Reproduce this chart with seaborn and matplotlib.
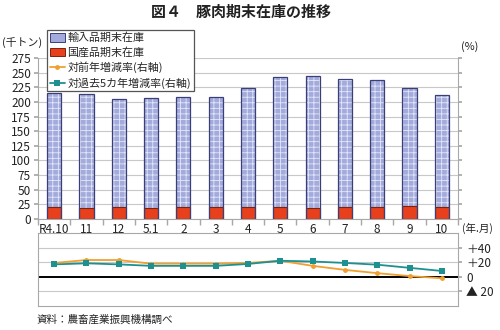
import numpy as np
import pandas as pd
import matplotlib
matplotlib.use("Agg")
import matplotlib.pyplot as plt
import seaborn as sns
from matplotlib.patches import Patch, Rectangle
from matplotlib.lines import Line2D

# Month-end pork inventories (thousand tonnes) and change rates (%)
months = ["R4.10", "11", "12", "5.1", "2", "3", "4", "5", "6", "7", "8", "9", "10"]
imported = [196, 196, 185, 188, 188, 188, 202, 222, 225, 218, 216, 201, 192]
domestic = [20, 18, 20, 18, 20, 20, 21, 21, 19, 21, 21, 22, 20]
yoy_rate = [19, 23, 23, 18, 18, 18, 19, 22, 15, 9.5, 5, 1, -2]
five_year_rate = [17, 18.5, 17, 15, 15, 15, 17.6, 22, 21, 19, 16.6, 12.3, 8]

left_ticks = list(range(0, 276, 25))
right_ticks = [40, 20, 0, -20]
right_labels = ["＋40", "＋20", "0", "▲ 20"]

BLUE = "#a3abdc"
HATCH = "#e4e7f7"
NAVY = "#3a3f78"
RED = "#e8401c"
DARKRED = "#7a2410"
ORANGE = "#f0a030"
TEAL = "#1f9090"
GRID = "#c8c8c8"
SPINE = "#a8a8a8"
TEXT = "#222222"

sns.set_theme(style="white")
plt.rcParams["font.family"] = ["Noto Sans CJK JP", "DejaVu Sans"]
plt.rcParams["hatch.linewidth"] = 0.6

fig = plt.figure(figsize=(5, 3.3), dpi=100)
fig.patch.set_facecolor("white")

# ---- stacked inventory bars ----
ax = fig.add_axes([0.076, 0.3364, 0.84, 0.4879])
df = pd.DataFrame({
    "month": months,
    "total": np.add(imported, domestic),
    "domestic": domestic,
})
# hatch takes its colour from the edge colour, so the grid texture is drawn
# first and a dark outline is laid on top of each bar afterwards
sns.barplot(data=df, x="month", y="total", color=BLUE, saturation=1,
            width=0.44, edgecolor=HATCH, linewidth=0, hatch="+++", ax=ax)
for p in list(ax.patches):
    ax.add_patch(Rectangle(p.get_xy(), p.get_width(), p.get_height(),
                           facecolor="none", edgecolor=NAVY, linewidth=0.9,
                           zorder=p.get_zorder() + 0.1))
sns.barplot(data=df, x="month", y="domestic", color=RED, saturation=1,
            width=0.44, edgecolor=DARKRED, linewidth=0.8, ax=ax)

ax.set_xlim(-0.5, len(months) - 0.5)
ax.set_ylim(0, 275)
ax.set_yticks(left_ticks)
ax.yaxis.grid(True, color=GRID, linewidth=0.8)
ax.set_axisbelow(True)
ax.set_xlabel("")
ax.set_ylabel("")
for side in ["left", "bottom", "right"]:
    ax.spines[side].set_color(SPINE)
    ax.spines[side].set_linewidth(0.8)
ax.spines["top"].set_visible(False)
ax.tick_params(axis="y", left=True, right=True, labelright=False, length=3,
               color=SPINE, labelsize=8.5, pad=2, labelcolor=TEXT)
ax.tick_params(axis="x", which="major", length=0, labelsize=8.5, pad=3,
               labelcolor=TEXT)
ax.set_xticks(np.arange(-0.5, len(months), 1.0), minor=True)
ax.tick_params(axis="x", which="minor", bottom=True, length=4, color=SPINE,
               direction="out")

# ---- change-rate lines ----
ax2 = fig.add_axes([0.076, 0.0727, 0.84, 0.2212])
x = np.arange(len(months))
sns.lineplot(x=x, y=yoy_rate, color=ORANGE, marker="o", markersize=3.5,
             markeredgewidth=0, linewidth=1.3, ax=ax2)
sns.lineplot(x=x, y=five_year_rate, color=TEAL, marker="s", markersize=4.5,
             markeredgewidth=0, linewidth=1.3, ax=ax2)
ax2.set_xlim(-0.5, len(months) - 0.5)
ax2.set_ylim(-40, 60)
for yv in [40, 20, -20]:
    ax2.axhline(yv, color=GRID, linewidth=0.8, zorder=0)
ax2.axhline(0, color="black", linewidth=1.4, zorder=1)
ax2.set_yticks(right_ticks)
ax2.set_yticklabels(right_labels)
ax2.yaxis.tick_right()
ax2.tick_params(axis="y", left=False, right=True, length=3, color=SPINE,
                labelsize=8.5, pad=3, labelcolor=TEXT)
ax2.set_xticks([])
for side in ["left", "bottom", "right", "top"]:
    ax2.spines[side].set_color(SPINE)
    ax2.spines[side].set_linewidth(0.8)

# ---- legend ----
handles = [
    Patch(facecolor=BLUE, edgecolor=NAVY, linewidth=0.7),
    Patch(facecolor=RED, edgecolor=DARKRED, linewidth=0.7),
    Line2D([], [], color=ORANGE, marker="o", markersize=3.5, markeredgewidth=0, linewidth=1.3),
    Line2D([], [], color=TEAL, marker="s", markersize=4, markeredgewidth=0, linewidth=1.3),
]
labels = ["輸入品期末在庫", "国産品期末在庫", "対前年増減率(右軸)", "対過去5カ年増減率(右軸)"]
leg = fig.legend(handles, labels, loc="upper left", bbox_to_anchor=(0.094, 0.909),
                 fontsize=7.9, frameon=True, fancybox=False, framealpha=1,
                 edgecolor="#555555", borderpad=0.25, labelspacing=0.35,
                 handlelength=1.4, handleheight=0.8, handletextpad=0.2,
                 borderaxespad=0)
leg.get_frame().set_linewidth(0.9)

# ---- titles and notes ----
fig.text(0.482, 1 - 12 / 330, "図４　豚肉期末在庫の推移", ha="center", va="center",
         fontsize=10.8, fontweight="bold", color=TEXT)
fig.text(0.004, 1 - 43 / 330, "(千トン)", ha="left", va="center", fontsize=7.8,
         color=TEXT)
fig.text(0.922, 1 - 47 / 330, "(%)", ha="left", va="center", fontsize=7.8,
         color=TEXT)
fig.text(0.924, 1 - 228 / 330, "(年.月)", ha="left", va="center", fontsize=7.6,
         color=TEXT)
fig.text(0.074, 1 - 320 / 330, "資料：農畜産業振興機構調べ", ha="left", va="center",
         fontsize=7.6, color=TEXT)

fig.savefig("out.png", dpi=100, facecolor="white")
